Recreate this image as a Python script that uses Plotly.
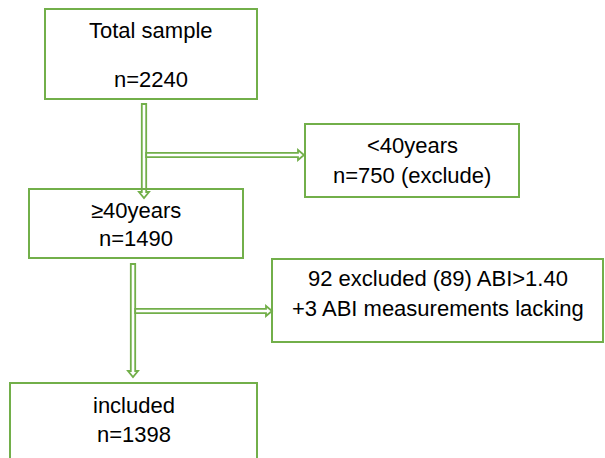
import plotly.graph_objects as go

# ---- content ----
box_names = ["total", "under40", "over40", "excluded", "included"]
box_lines = [
    ["Total sample", "n=2240"],
    ["<40years", "n=750 (exclude)"],
    ["\u226540years", "n=1490"],
    ["92 excluded (89) ABI>1.40", "+3 ABI measurements lacking"],
    ["included", "n=1398"],
]

# ---- layout (pixel space) ----
W, H = 605, 458
GREEN = "#72AF4A"
FONT = dict(family="Liberation Sans, Arial, sans-serif", size=22, color="#000000")

box_rects = {
    "total": (45, 9, 257, 99),
    "under40": (305, 124, 519, 197),
    "over40": (29, 189, 243, 258),
    "excluded": (272, 259, 603, 342),
    "included": (10, 383, 257, 470),
}
baselines = {
    "total": (38, 87),
    "under40": (153, 183),
    "over40": (218, 246),
    "excluded": (286, 316),
    "included": (413, 442),
}

fig = go.Figure()
fig.add_trace(go.Scatter(x=[0, W], y=[0, H], mode="markers",
                         marker=dict(opacity=0), hoverinfo="skip", showlegend=False))

shapes = []


def v_arrow(x, y0, y1, sw=2.2, hw=5, hl=6):
    p = (f"M {x-sw},{y0} L {x-sw},{y1-hl} L {x-hw},{y1-hl} L {x},{y1} "
         f"L {x+hw},{y1-hl} L {x+sw},{y1-hl} L {x+sw},{y0} Z")
    return dict(type="path", path=p, xref="x", yref="y",
                line=dict(color=GREEN, width=1.8), fillcolor="white", layer="above")


def h_arrow(x0, x1, y, sw=2.2, hw=5, hl=6):
    p = (f"M {x0},{y-sw} L {x1-hl},{y-sw} L {x1-hl},{y-hw} L {x1},{y} "
         f"L {x1-hl},{y+hw} L {x1-hl},{y+sw} L {x0},{y+sw} Z")
    return dict(type="path", path=p, xref="x", yref="y",
                line=dict(color=GREEN, width=1.8), fillcolor="white", layer="above")


shapes.append(v_arrow(144, 104, 198))
shapes.append(h_arrow(146.2, 304, 155))
shapes.append(v_arrow(133, 264, 377))
shapes.append(h_arrow(135.2, 272, 311))

for name in box_names:
    x0, y0, x1, y1 = box_rects[name]
    shapes.append(dict(type="rect", xref="x", yref="y", x0=x0, y0=y0, x1=x1, y1=y1,
                       line=dict(color=GREEN, width=2), fillcolor="rgba(0,0,0,0)",
                       layer="above"))

annotations = []
for name, lines in zip(box_names, box_lines):
    x0, y0, x1, y1 = box_rects[name]
    cx = (x0 + x1) / 2
    for txt, bl in zip(lines, baselines[name]):
        annotations.append(dict(x=cx, y=bl - 8, xref="x", yref="y", text=txt,
                                showarrow=False, font=FONT, xanchor="center",
                                yanchor="middle"))

fig.update_layout(
    width=W, height=H,
    margin=dict(l=0, r=0, t=0, b=0),
    paper_bgcolor="white", plot_bgcolor="white",
    xaxis=dict(range=[0, W], visible=False, fixedrange=True),
    yaxis=dict(range=[H, 0], visible=False, fixedrange=True),
    shapes=shapes, annotations=annotations,
    showlegend=False,
)

fig.write_html(
    "out.html",
    config={"displayModeBar": False, "responsive": False},
    post_script="document.body.style.margin='0px';document.body.style.overflow='hidden';",
)
